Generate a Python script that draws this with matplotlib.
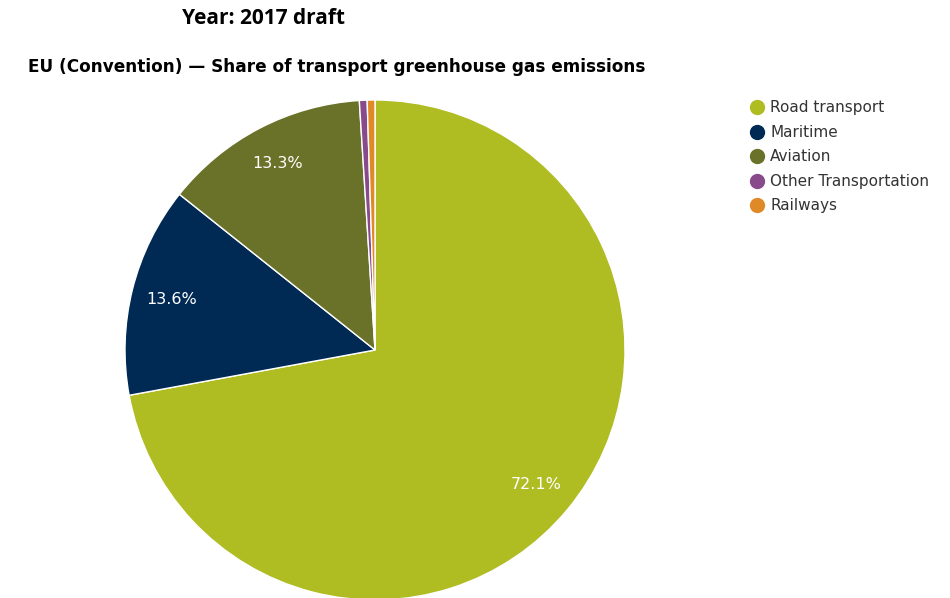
import os
import matplotlib
matplotlib.use("Agg")
import matplotlib.pyplot as plt
from matplotlib.lines import Line2D
from matplotlib.font_manager import FontProperties

categories = ["Road transport", "Maritime", "Aviation", "Other Transportation", "Railways"]
shares = [72.1, 13.6, 13.3, 0.5, 0.5]
colors = ["#afbc22", "#002a53", "#6a7128", "#894a8c", "#df8a27"]

ttf_dir = os.path.join(matplotlib.get_data_path(), "fonts", "ttf")
dv = os.path.join(ttf_dir, "DejaVuSans.ttf")
dvb = os.path.join(ttf_dir, "DejaVuSans-Bold.ttf")

fig = plt.figure(figsize=(9.5, 5.98), dpi=100)
W, H = 950, 598

# pie area: center (375, 350), radius 250 in pixel space
cx, cy, r = 375, 350, 250
ax = fig.add_axes([(cx - r) / W, (H - (cy + r)) / H, 2 * r / W, 2 * r / H])

wedges, texts, autotexts = ax.pie(
    shares,
    colors=colors,
    startangle=90,
    counterclock=False,
    radius=1,
    autopct=lambda p: f"{p:.1f}%" if p > 5 else "",
    pctdistance=0.84,
    wedgeprops=dict(edgecolor="white", linewidth=1),
    textprops=dict(color="white"),
)
for t in autotexts:
    t.set_fontproperties(FontProperties(fname=dv, size=11.5))
ax.set_xlim(-1, 1)
ax.set_ylim(-1, 1)
ax.set_aspect("equal")
ax.axis("off")

fig.text(263 / W, 1 - 19 / H, "Year: 2017 draft", ha="center", va="center",
         fontsize=15, fontweight="bold", family="Open Sans")
fig.text(28 / W, 1 - 67 / H, "EU (Convention) \u2014 Share of transport greenhouse gas emissions",
         ha="left", va="center", fontproperties=FontProperties(fname=dvb, size=12.2))

# legend
handles = [Line2D([0], [0], marker="o", linestyle="none", markersize=10,
                  markerfacecolor=c, markeredgecolor=c) for c in colors]
fig.legend(handles, categories, loc="upper left",
           bbox_to_anchor=(751 / W, 1 - 100.5 / H), frameon=False,
           prop=FontProperties(fname=dv, size=11), handlelength=0.8,
           handletextpad=0.45, labelspacing=0.62, borderaxespad=0, borderpad=0,
           labelcolor="#333333")

fig.savefig("out.png", dpi=100)
